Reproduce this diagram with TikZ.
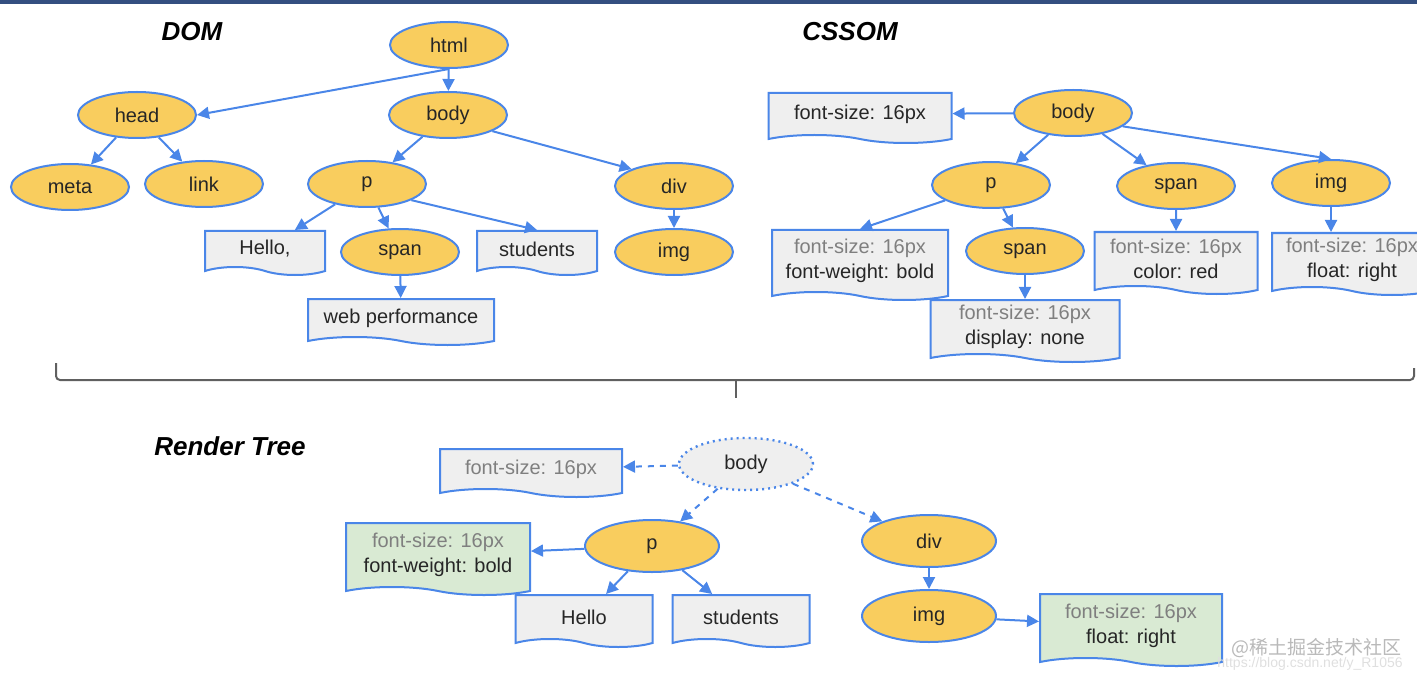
\documentclass[tikz,border=0pt]{standalone}
\usepackage{fontspec}
\setmainfont{Liberation Sans}
\newfontfamily\cjkfont{Noto Sans CJK SC}
\usetikzlibrary{shapes.geometric,shapes.symbols,arrows.meta}

\definecolor{nodeyellow}{HTML}{F9CD5E}
\definecolor{lineblue}{HTML}{4A86E8}
\definecolor{boxgray}{HTML}{EFEFEF}
\definecolor{boxgreen}{HTML}{D9EAD3}
\definecolor{textgray}{HTML}{7F7F7F}
\definecolor{textdark}{HTML}{262626}
\definecolor{topbar}{HTML}{344F80}

\newcommand{\prop}[1]{\textcolor{textgray}{#1}}

\tikzset{
  elem/.style={ellipse, draw=lineblue, line width=1pt, fill=nodeyellow,
    minimum width=59pt, minimum height=23pt, inner sep=0pt,
    text=textdark, font=\fontsize{10}{12}\selectfont},
  bigelem/.style={elem, minimum width=67pt, minimum height=26pt},
  cssbox/.style={tape, tape bend top=none, tape bend bottom=out and in,
    tape bend height=4pt, draw=lineblue, line width=1pt, fill=boxgray,
    align=center, inner sep=2pt, text=textdark,
    font=\fontsize{10}{12.5}\selectfont},
  title/.style={font=\fontsize{13}{15}\bfseries\itshape\selectfont},
  edge/.style={draw=lineblue, line width=1pt, -{Triangle[length=6pt,width=6pt]}},
}

\begin{document}
\begin{tikzpicture}[x=0.5pt, y=-0.5pt]
  \useasboundingbox (0,0) rectangle (1417,679);
  \clip (0,0) rectangle (1417,679);
  \fill[topbar] (0,0) rectangle (1417,4);

  % Titles
  \node[title] (domtitle) at (192,32) {DOM};
  \node[title] (csstitle) at (850,32) {CSSOM};
  \node[title] (rendertitle) at (230,446) {Render Tree};

  % DOM tree
  \node[elem] (html) at (449,45) {html};
  \node[elem] (head) at (137,115) {head};
  \node[elem] (body) at (448,115) {body};
  \node[elem] (meta) at (70,187) {meta};
  \node[elem] (link) at (204,184) {link};
  \node[elem] (p) at (367,184) {p};
  \node[elem] (div) at (674,186) {div};
  \node[cssbox, minimum width=60pt, minimum height=22pt] (hello) at (265,249) {Hello,};
  \node[elem] (span) at (400,252) {span};
  \node[cssbox, minimum width=60pt, minimum height=22pt] (students) at (537,249) {students};
  \node[elem] (img) at (674,252) {img};
  \node[cssbox, minimum width=93pt, minimum height=23pt] (webperf) at (401,318) {web performance};

  \draw[edge] (html.south) -- (head.east);
  \draw[edge] (html) -- (body);
  \draw[edge] (head) -- (meta);
  \draw[edge] (head) -- (link);
  \draw[edge] (body) -- (p);
  \draw[edge] (body.-20) -- (div.north west);
  \draw[edge] (p) -- (hello);
  \draw[edge] (p) -- (span);
  \draw[edge] (p.-20) -- (students.north);
  \draw[edge] (span) -- (webperf);
  \draw[edge] (div) -- (img);

  % CSSOM tree
  \node[cssbox, minimum width=91.5pt, minimum height=25pt] (cbodyrule) at (860,114) {font-size: 16px};
  \node[elem] (cbody) at (1073,113) {body};
  \node[elem] (cp) at (991,185) {p};
  \node[elem] (cspan) at (1176,186) {span};
  \node[elem] (cimg) at (1331,183) {img};
  \node[cssbox, minimum width=88pt, minimum height=35pt] (cprule) at (860,261)
    {\prop{font-size: 16px}\\font-weight: bold};
  \node[elem] (cspantwo) at (1025,251) {span};
  \node[cssbox, minimum width=81.5pt, minimum height=31pt] (cspanrule) at (1176,259)
    {\prop{font-size: 16px}\\color: red};
  \node[cssbox, minimum width=80pt, minimum height=31pt] (cimgrule) at (1352,260)
    {\prop{font-size: 16px}\\float: right};
  \node[cssbox, minimum width=94.5pt, minimum height=31pt] (cspantworule) at (1025,327)
    {\prop{font-size: 16px}\\display: none};

  \draw[edge] (cbody) -- (cbodyrule);
  \draw[edge] (cbody) -- (cp);
  \draw[edge] (cbody) -- (cspan);
  \draw[edge] (cbody.-15) -- (cimg.north);
  \draw[edge] (cp) -- (cprule.north);
  \draw[edge] (cp) -- (cspantwo);
  \draw[edge] (cspantwo) -- (cspantworule);
  \draw[edge] (cspan) -- (cspanrule);
  \draw[edge] (cimg) -- (cimg |- cimgrule.north);

  % Brace
  \draw[gray!75!black, line width=1pt, rounded corners=2pt]
    (56,363) -- (56,380) -- (1414,380) -- (1414,368);
  \draw[gray!75!black, line width=1pt] (736,380) -- (736,398);

  % Render tree
  \node[cssbox, minimum width=91pt, minimum height=24pt] (rbodyrule) at (531,469) {\prop{font-size: 16px}};
  \node[bigelem, fill=boxgray, dotted, line width=1.2pt] (rbody) at (746,464) {body};
  \node[bigelem] (rp) at (652,546) {p};
  \node[bigelem] (rdiv) at (929,541) {div};
  \node[cssbox, fill=boxgreen, minimum width=92pt, minimum height=36pt] (rprule) at (438,555)
    {\prop{font-size: 16px}\\font-weight: bold};
  \node[cssbox, minimum width=68.5pt, minimum height=26pt] (rhello) at (584,617) {Hello};
  \node[cssbox, minimum width=68.5pt, minimum height=26pt] (rstudents) at (741,617) {students};
  \node[bigelem] (rimg) at (929,616) {img};
  \node[cssbox, fill=boxgreen, minimum width=91pt, minimum height=36pt] (rimgrule) at (1131,626)
    {\prop{font-size: 16px}\\float: right};

  \draw[edge, dashed] (rbody) -- (rbodyrule);
  \draw[edge, dashed] (rbody) -- (rp);
  \draw[edge, dashed] (rbody) -- (rdiv);
  \draw[edge] (rp) -- (rprule);
  \draw[edge] (rp) -- (rhello);
  \draw[edge] (rp) -- (rstudents);
  \draw[edge] (rdiv) -- (rimg);
  \draw[edge] (rimg) -- (rimgrule);

  % Watermark
  \node[text=gray!55, font=\cjkfont\fontsize{9.5}{11}\selectfont] (mark) at (1316,648) {@稀土掘金技术社区};
  \node[text=gray!25, font=\fontsize{7}{8}\selectfont] (url) at (1310,664) {https://blog.csdn.net/y\_R1056};
\end{tikzpicture}
\end{document}
